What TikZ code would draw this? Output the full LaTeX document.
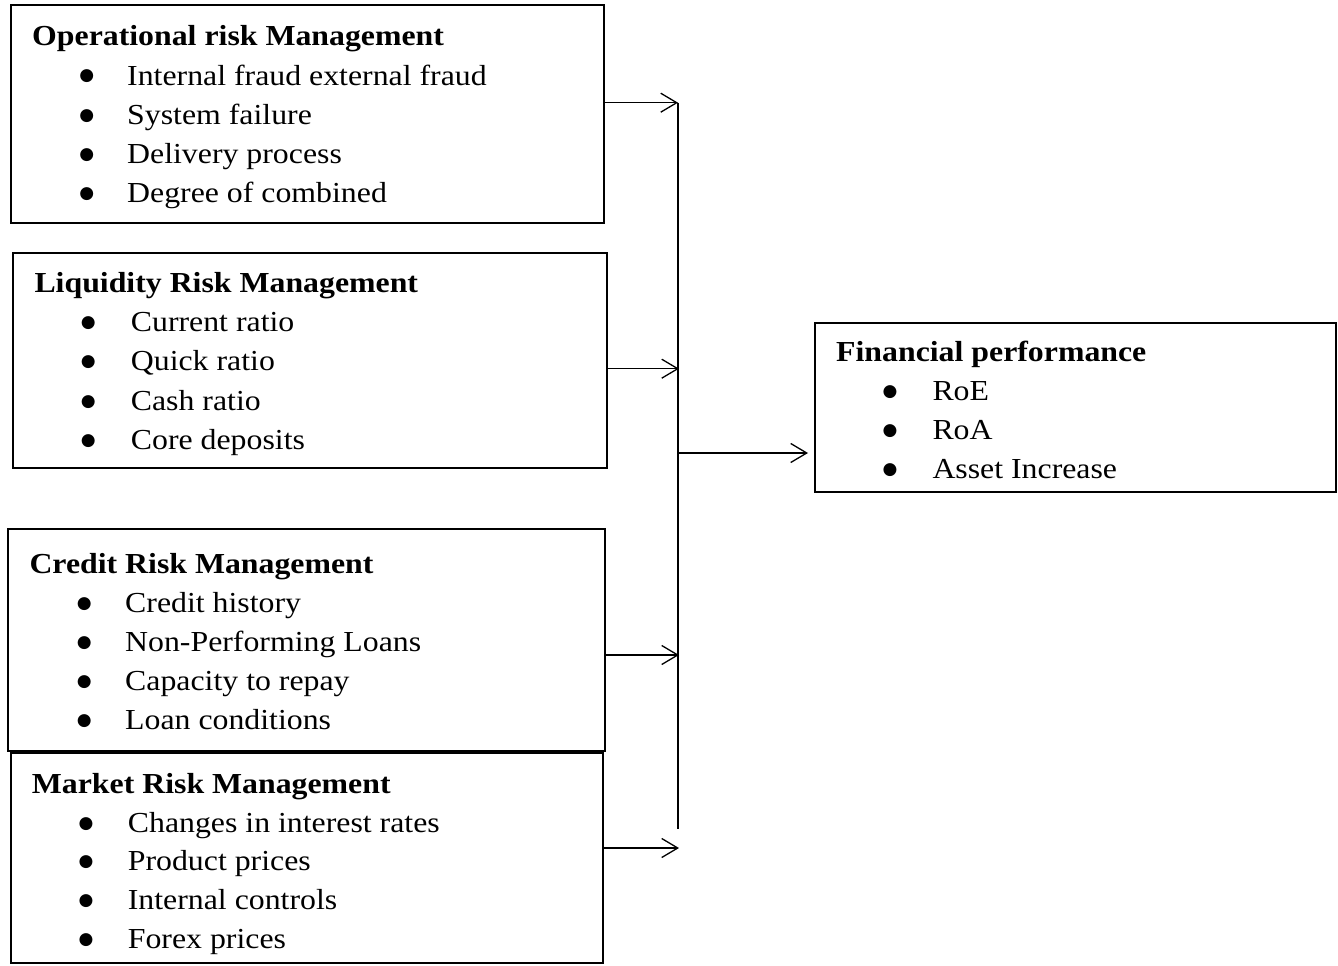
\documentclass[tikz,border=0pt]{standalone}
\usepackage{fontspec}
\setmainfont{Liberation Serif}
\newfontfamily\dotfont{DejaVu Sans}
\usetikzlibrary{arrows.meta}
\newcommand{\wide}[1]{\scalebox{1.097}[1]{#1}}
\newcommand{\bigbul}{●}
\tikzset{
 box/.style={draw, line width=1.6pt, rectangle, inner sep=0pt, outer sep=0pt, anchor=north west},
 ttl/.style={anchor=base west, inner sep=0pt, font=\fontsize{29}{35}\selectfont\bfseries},
 itm/.style={anchor=base west, inner sep=0pt, font=\fontsize{29}{35}\selectfont},
 bul/.style={anchor=center, inner sep=0pt, font=\dotfont\fontsize{17}{20}\selectfont},
 conn/.style={line width=1.3pt, -{Straight Barb[length=16pt,width=19pt,line width=1.3pt]}},
 bus/.style={line width=1.3pt}
}
\begin{document}
\begin{tikzpicture}[x=1pt,y=-1pt]
\useasboundingbox (0,0) rectangle (1338,966);
% boxes
\node[box, minimum width=593pt, minimum height=218pt] (op) at (11,5) {};
\node[box, minimum width=594pt, minimum height=215pt] (liq) at (13,253) {};
\node[box, minimum width=597pt, minimum height=222pt] (cr) at (8,529) {};
\node[box, minimum width=592pt, minimum height=210pt] (mk) at (11,753) {};
\node[box, minimum width=521pt, minimum height=169pt] (fin) at (815,323) {};
% operational
\node[ttl] (op-t) at (32,46) {\wide{Operational risk Management}};
\foreach \t [count=\i] in {Internal fraud external fraud, System failure, Delivery process, Degree of combined}{
 \node[bul] (op-b\i) at (86.7,{46+39*\i-8.4}) {\bigbul};
 \node[itm] (op-\i) at (127,{46+39*\i}) {\wide{\t}};
}
% liquidity
\node[ttl] (liq-t) at (34.3,292.7) {\wide{Liquidity Risk Management}};
\foreach \t [count=\i] in {Current ratio, Quick ratio, Cash ratio, Core deposits}{
 \node[bul] (liq-b\i) at (88.3,{292.7+39.1*\i-8.4}) {\bigbul};
 \node[itm] (liq-\i) at (130.7,{292.7+39.1*\i}) {\wide{\t}};
}
% credit
\node[ttl] (cr-t) at (29.3,573.3) {\wide{Credit Risk Management}};
\foreach \t [count=\i] in {Credit history, Non-Performing Loans, Capacity to repay, Loan conditions}{
 \node[bul] (cr-b\i) at (84.3,{573.3+39*\i-8.4}) {\bigbul};
 \node[itm] (cr-\i) at (125,{573.3+39*\i}) {\wide{\t}};
}
% market
\node[ttl] (mk-t) at (31.7,793.3) {\wide{Market Risk Management}};
\foreach \t [count=\i] in {Changes in interest rates, Product prices, Internal controls, Forex prices}{
 \node[bul] (mk-b\i) at (86,{793.3+38.8*\i-8.4}) {\bigbul};
 \node[itm] (mk-\i) at (127.7,{793.3+38.8*\i}) {\wide{\t}};
}
% financial
\node[ttl] (fin-t) at (836,361.7) {\wide{Financial performance}};
\foreach \t [count=\i] in {RoE, RoA, Asset Increase}{
 \node[bul] (fin-b\i) at (890,{361.7+39*\i-8.4}) {\bigbul};
 \node[itm] (fin-\i) at (932.3,{361.7+39*\i}) {\wide{\t}};
}
% connectors
\coordinate (bt) at (678,102.7);
\coordinate (bb) at (678,829);
\draw[bus] (bt) -- (bb);
\draw[conn] (op.east |- bt) -- (bt);
\coordinate (jl) at (679,368.7);
\draw[conn] (liq.east |- jl) -- (jl);
\coordinate (jc) at (679,655);
\draw[conn] (cr.east |- jc) -- (jc);
\coordinate (jm) at (679,848);
\draw[conn] (mk.east |- jm) -- (jm);
\coordinate (jf) at (678,453);
\draw[conn] (jf) -- ([xshift=-7pt]fin.west |- jf);
\end{tikzpicture}
\end{document}
